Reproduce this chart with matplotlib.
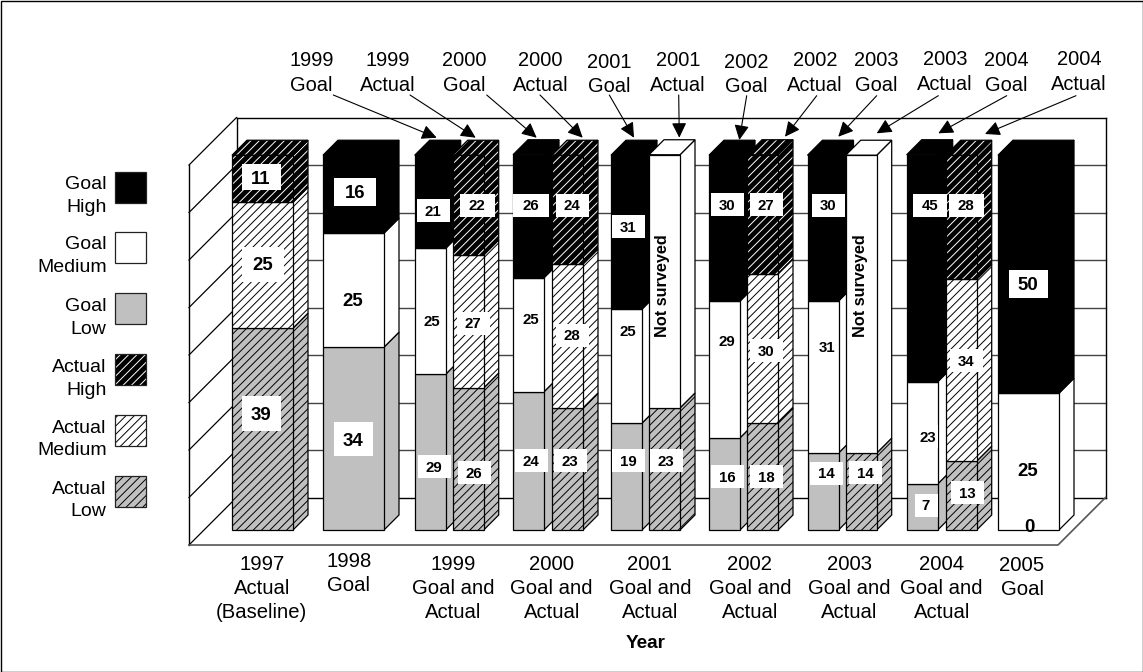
import matplotlib
matplotlib.use("Agg")
import matplotlib.pyplot as plt
from matplotlib.patches import Polygon, Rectangle

plt.rcParams["font.family"] = ["Liberation Sans", "DejaVu Sans"]
plt.rcParams["hatch.linewidth"] = 0.7

W, H = 1143, 672

# stacked heights in gridline units (10 per gridline)
bar_kind = ["A", "G", "G", "A", "G", "A", "G", "A", "G", "A", "G", "A", "G", "A", "G"]
low_h = [42.5, 38.5, 32.8, 29.9, 29.1, 25.7, 22.5, 25.7, 19.4, 22.5, 16.2, 16.2, 9.7, 14.5, 0]
med_h = [26.5, 24.0, 26.5, 28.0, 24.0, 30.3, 24.0, 0, 28.8, 31.4, 32.0, 0, 21.5, 38.3, 28.8]
high_h = [9.9, 16.4, 19.6, 21.0, 25.9, 22.9, 32.4, 0, 30.7, 25.1, 30.7, 0, 47.8, 26.1, 50.1]
not_surveyed_h = [0, 0, 0, 0, 0, 0, 0, 53.3, 0, 0, 0, 62.7, 0, 0, 0]

# layout
bar_left = [232, 323, 414.7, 452.7, 513, 552, 611, 649, 709, 747, 807.5, 845.7, 906.7, 945.7, 998]
bar_width = [61, 61, 31, 31, 31, 31, 31, 31, 31, 31, 31, 31, 31, 31, 61]
BASE_Y = 530
PX_PER_UNIT = 4.75
DEPTH_PX = 15
WALL_LEFT, WALL_RIGHT = 189, 1058
WALL_DEPTH_PX = 47.5
FLOOR_V = -3.16
grid_levels = [0, 10, 20, 30, 40, 50, 60, 70, 80]

# value labels as printed on the chart
big_text = ["11", "25", "39", "16", "25", "34", "50", "25", "0"]
big_x = [261, 263, 261, 355, 353, 353, 1028, 1028, 1029]
big_y = [177, 264, 413, 192, 299, 439, 284, 470, 526]
big_box = [(39, 26), (42, 35), (39, 35), (42, 28), (0, 0), (39, 34), (39, 28), (0, 0), (0, 0)]

small_text = ["21", "22", "25", "27", "29", "26",
              "26", "24", "25", "28", "24", "23",
              "31", "25", "19", "23",
              "30", "27", "29", "30", "16", "18",
              "30", "31", "14", "14",
              "45", "28", "23", "34", "7", "13"]
small_x = [433, 477, 432, 473, 434, 474,
           531, 572, 531, 572, 531, 570,
           628, 628, 628, 666,
           727, 766, 727, 766, 727, 766,
           828, 827, 826, 865,
           930, 966, 928, 966, 926, 967]
small_y = [210, 205, 320, 323, 466, 472,
           205, 205, 319, 335, 460, 460,
           226, 330, 460, 460,
           204, 204, 340, 350, 476, 476,
           205, 347, 473, 472,
           205, 205, 436, 360, 505, 492]
small_w = [33, 35, 19, 33, 33, 33,
           36, 33, 19, 33, 33, 33,
           33, 19, 33, 33,
           33, 33, 19, 33, 33, 33,
           33, 19, 33, 33,
           34, 35, 19, 33, 23, 33]

ns_x = [663, 861]
ns_y = [286, 286]

callout_text = ["1999\nGoal", "1999\nActual", "2000\nGoal", "2000\nActual", "2001\nGoal", "2001\nActual",
                "2002\nGoal", "2002\nActual", "2003\nGoal", "2003\nActual", "2004\nGoal", "2004\nActual"]
callout_x = [311.7, 387.7, 464, 540.7, 609, 678, 746.7, 815, 876, 945, 1006.7, 1079]
callout_y = [73, 73, 73, 73, 74.5, 73, 74.5, 73, 73, 72, 73, 72]
arrow_from = [(333.3, 95), (410, 95), (486.7, 95), (540, 95), (609.3, 95), (678.7, 95),
              (746.7, 95.7), (816.7, 95.7), (876.7, 95.7), (938.3, 95.7), (1006.7, 95.7), (1076, 95.7)]
arrow_to = [(436.7, 137.7), (475.7, 137.7), (536.7, 137.7), (582.7, 137.7), (634, 137.7), (679.3, 137.7),
            (739.3, 140), (785, 136.7), (838.3, 136.7), (876.7, 133.3), (938.3, 133.3), (985, 134)]

xtick_text = ["1997\nActual\n(Baseline)", "1998\nGoal", "1999\nGoal and\nActual", "2000\nGoal and\nActual",
              "2001\nGoal and\nActual", "2002\nGoal and\nActual", "2003\nGoal and\nActual",
              "2004\nGoal and\nActual", "2005\nGoal"]
xtick_x = [261.7, 349, 453, 551.7, 650, 750, 849, 941.7, 1022]
xtick_y = [555, 552, 555, 555, 555, 555, 555, 555, 556]

legend_text = ["Goal\nHigh", "Goal\nMedium", "Goal\nLow", "Actual\nHigh", "Actual\nMedium", "Actual\nLow"]
legend_keys = [("G", "high"), ("G", "med"), ("G", "low"), ("A", "high"), ("A", "med"), ("A", "low")]
legend_top = [171.7, 231.5, 293.3, 354.3, 415, 476]

HATCH = "////"
styles = {
    ("G", "high"): dict(facecolor="black", edgecolor="black"),
    ("G", "med"): dict(facecolor="white", edgecolor="white"),
    ("G", "low"): dict(facecolor="#c0c0c0", edgecolor="#c0c0c0"),
    ("A", "high"): dict(facecolor="black", edgecolor="white", hatch=HATCH),
    ("A", "med"): dict(facecolor="white", edgecolor="black", hatch=HATCH),
    ("A", "low"): dict(facecolor="#c0c0c0", edgecolor="black", hatch=HATCH),
    ("N", "med"): dict(facecolor="white", edgecolor="white"),
}


def draw_segment(ax, x, w, bottom, height, style, is_top, dx, dy):
    top = bottom + height
    side = [(x + w, bottom), (x + w + dx, bottom + dy), (x + w + dx, top + dy), (x + w, top)]
    ax.add_patch(Polygon(side, linewidth=0, **style))
    ax.add_patch(Polygon(side, fill=False, edgecolor="black", linewidth=0.9))
    if is_top:
        lid = [(x, top), (x + dx, top + dy), (x + w + dx, top + dy), (x + w, top)]
        ax.add_patch(Polygon(lid, linewidth=0, **style))
        ax.add_patch(Polygon(lid, fill=False, edgecolor="black", linewidth=0.9))
    ax.bar(x, height, w, bottom=bottom, align="edge", linewidth=0, **style)
    ax.bar(x, height, w, bottom=bottom, align="edge", fill=False, edgecolor="black", linewidth=0.9)


fig = plt.figure(figsize=(W / 100, H / 100), dpi=100)

bx = fig.add_axes([0, 0, 1, 1], zorder=1)
bx.set_xlim(0, W)
bx.set_ylim((BASE_Y - H) / PX_PER_UNIT, BASE_Y / PX_PER_UNIT)
bx.axis("off")

# walls and floor
wall_dv = WALL_DEPTH_PX / PX_PER_UNIT
back_l, back_r = WALL_LEFT + WALL_DEPTH_PX, WALL_RIGHT + WALL_DEPTH_PX
for g in grid_levels:
    v = FLOOR_V + g
    color = "black" if g in (0, 80) else "#444444"
    bx.plot([back_l, back_r], [v + wall_dv, v + wall_dv], color=color, lw=1, zorder=0.5)
    bx.plot([WALL_LEFT, back_l], [v, v + wall_dv], color="black", lw=0.9, zorder=0.5)
bx.plot([WALL_LEFT, WALL_LEFT], [FLOOR_V, FLOOR_V + 80], color="black", lw=1, zorder=0.5)
bx.plot([back_l, back_l], [FLOOR_V + wall_dv, FLOOR_V + 80 + wall_dv], color="black", lw=1, zorder=0.5)
bx.plot([back_r, back_r], [FLOOR_V + wall_dv, FLOOR_V + 80 + wall_dv], color="black", lw=1, zorder=0.5)
bx.plot([WALL_LEFT, WALL_RIGHT, back_r], [FLOOR_V, FLOOR_V, FLOOR_V + wall_dv], color="#555555", lw=1.2, zorder=0.5)

# bars
depth_v = DEPTH_PX / PX_PER_UNIT
for i in range(len(bar_left)):
    kind = bar_kind[i]
    segs = [(low_h[i], (kind, "low")), (med_h[i], (kind, "med")),
            (not_surveyed_h[i], ("N", "med")), (high_h[i], (kind, "high"))]
    segs = [s for s in segs if s[0] > 0]
    bottom = 0
    for j, (h, key) in enumerate(segs):
        draw_segment(bx, bar_left[i], bar_width[i], bottom, h, styles[key], j == len(segs) - 1, DEPTH_PX, depth_v)
        bottom += h

# text and callouts go on a pixel-coordinate layer on top
ov = fig.add_axes([0, 0, 1, 1], zorder=2)
ov.set_xlim(0, W)
ov.set_ylim(H, 0)
ov.axis("off")

ov.add_patch(Rectangle((0.5, 0.5), W - 1, H - 1, fill=False, edgecolor="black", linewidth=1))

for t, x, y, (bw, bh) in zip(big_text, big_x, big_y, big_box):
    if bw:
        ov.add_patch(Rectangle((x - bw / 2, y - bh / 2), bw, bh, facecolor="white", edgecolor="none"))
    ov.text(x, y, t, ha="center", va="center_baseline", fontsize=13.4, fontweight="bold")

for t, x, y, bw in zip(small_text, small_x, small_y, small_w):
    ov.add_patch(Rectangle((x - bw / 2, y - 11.5), bw, 23, facecolor="white", edgecolor="none"))
    ov.text(x, y, t, ha="center", va="center_baseline", fontsize=10.8, fontweight="bold")

for x, y in zip(ns_x, ns_y):
    ov.text(x, y, "Not surveyed", rotation=90, ha="center", va="center", fontsize=11.7, fontweight="bold")

for t, x, y in zip(callout_text, callout_x, callout_y):
    ov.text(x, y, t, ha="center", va="center", fontsize=14.4, linespacing=1.36)

for a, b in zip(arrow_from, arrow_to):
    ov.annotate("", xy=b, xytext=a,
                arrowprops=dict(arrowstyle="-|>,head_length=0.65,head_width=0.32", color="black", lw=0.8,
                                shrinkA=0, shrinkB=0, mutation_scale=14))

for t, x, y in zip(xtick_text, xtick_x, xtick_y):
    ov.text(x, y, t, ha="center", va="top", fontsize=14.6, linespacing=1.33)
ov.text(646, 643, "Year", ha="center", va="center", fontsize=13.6, fontweight="bold")

# legend
for t, key, top in zip(legend_text, legend_keys, legend_top):
    ov.add_patch(Rectangle((114.7, top), 31, 31, linewidth=0, **styles[key]))
    ov.add_patch(Rectangle((114.7, top), 31, 31, fill=False, edgecolor="#222222", linewidth=0.9))
    ov.text(106.7, top + 24.5, t, ha="right", va="center", fontsize=14, linespacing=1.42)

fig.savefig("out.png", dpi=100)
